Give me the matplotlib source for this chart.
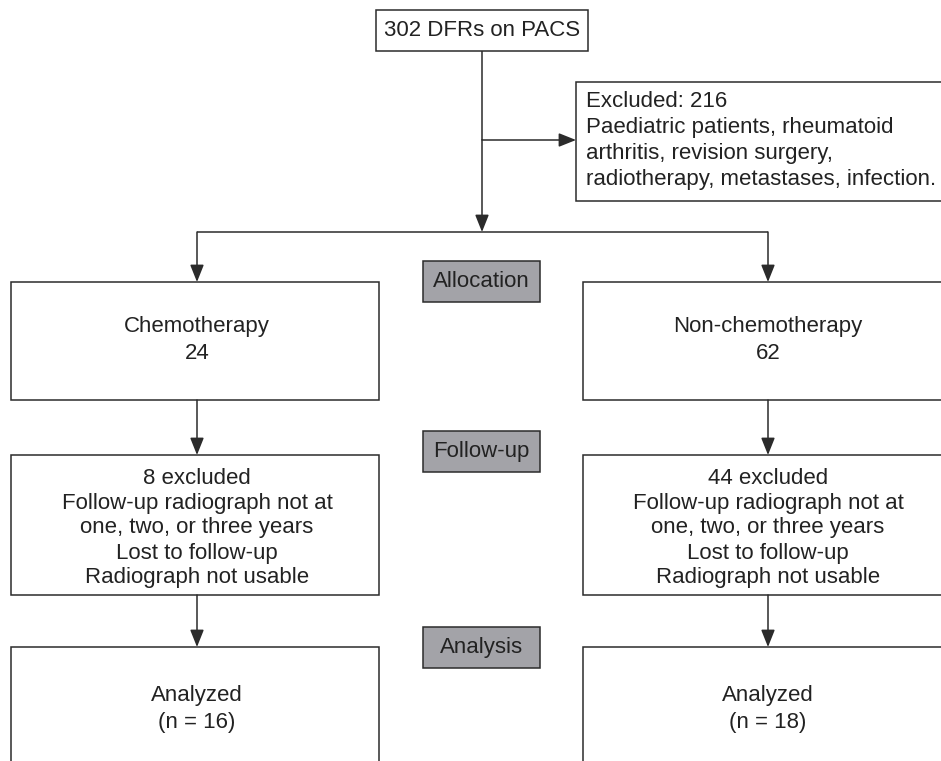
import matplotlib.pyplot as plt
from matplotlib.patches import Rectangle

plt.rcParams['font.family'] = ['Liberation Sans', 'DejaVu Sans']

# Flow text
top_text = "302 DFRs on PACS"
excluded_text = ["Excluded: 216",
                 "Paediatric patients, rheumatoid",
                 "arthritis, revision surgery,",
                 "radiotherapy, metastases, infection."]
stage_labels = ["Allocation", "Follow-up", "Analysis"]
group_names = ["Chemotherapy", "Non-chemotherapy"]
group_n = [24, 62]
followup_excluded = [8, 44]
followup_reasons = ["Follow-up radiograph not at",
                    "one, two, or three years",
                    "Lost to follow-up",
                    "Radiograph not usable"]
analyzed_n = [16, 18]

LINE = "#2b2b2b"
TEXT = "#222222"
GREY = "#a3a3a8"
FS = 16
LS = 1.32

fig = plt.figure(figsize=(9.41, 7.61), dpi=100)
ax = fig.add_axes([0, 0, 1, 1])
ax.set_xlim(0, 941)
ax.set_ylim(761, 0)
ax.axis("off")


def box(x0, y0, x1, y1, fc="white"):
    ax.add_patch(Rectangle((x0, y0), x1 - x0, y1 - y0, fc=fc, ec=LINE,
                           lw=1.1, clip_on=False))


def line(xs, ys):
    ax.plot(xs, ys, color=LINE, lw=1.1, solid_capstyle="butt")


def arrow(x0, y0, x1, y1):
    ax.annotate("", xy=(x1, y1), xytext=(x0, y0),
                arrowprops=dict(arrowstyle="-|>,head_length=0.75,head_width=0.3",
                                mutation_scale=14, color=LINE, lw=1.1,
                                shrinkA=0, shrinkB=0))


# top box
box(376, 10, 588, 51)
ax.text(482, 31, top_text, ha="center", va="center", fontsize=FS, color=TEXT)

# excluded box
box(576, 82, 960, 201)
ax.text(586, 91, "\n".join(excluded_text), ha="left", va="top", fontsize=FS,
        color=TEXT, linespacing=LS)
line([482, 482], [51, 140])
arrow(482, 140, 576, 140)
arrow(482, 140, 482, 232)

# split
cols = [197, 768]
line([cols[0], cols[1]], [232, 232])
for c in cols:
    arrow(c, 232, c, 282)

# stage labels
stage_y = [(261, 302), (431, 472), (627, 668)]
for lab, (ya, yb) in zip(stage_labels, stage_y):
    box(423, ya, 540, yb, fc=GREY)
    ax.text(481.5, (ya + yb) / 2, lab, ha="center", va="center",
            fontsize=FS, color=TEXT)

lefts = [(11, 379), (583, 960)]
for i, c in enumerate(cols):
    xa, xb = lefts[i]
    # allocation
    box(xa, 282, xb, 400)
    ax.text(c, 340, f"{group_names[i]}\n{group_n[i]}", ha="center",
            va="center", fontsize=FS, color=TEXT, linespacing=LS)
    arrow(c, 400, c, 455)
    # follow-up
    box(xa, 455, xb, 595)
    ax.text(c, 528, "\n".join([f"{followup_excluded[i]} excluded"] + followup_reasons),
            ha="center", va="center", fontsize=FS, color=TEXT, linespacing=1.25)
    arrow(c, 595, c, 647)
    # analysis
    box(xa, 647, xb, 790)
    ax.text(c, 709, f"Analyzed\n(n = {analyzed_n[i]})", ha="center",
            va="center", fontsize=FS, color=TEXT, linespacing=LS)

fig.savefig("out.png", dpi=100)
